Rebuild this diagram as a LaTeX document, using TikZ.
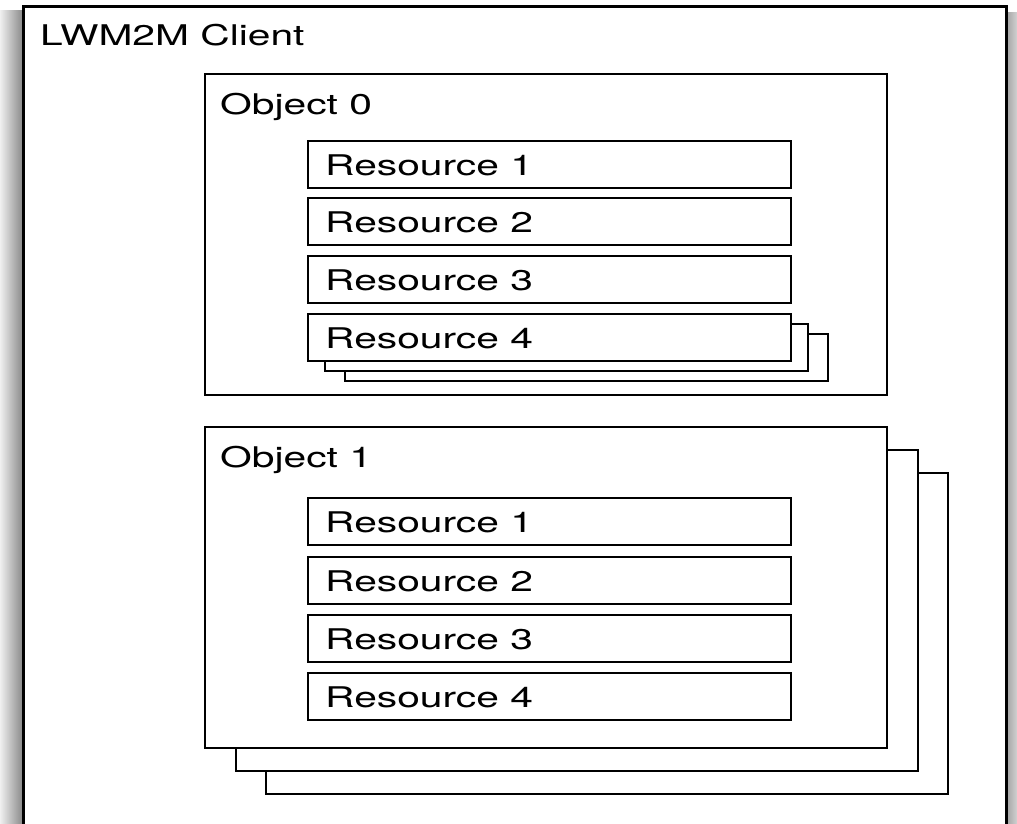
\documentclass[tikz,border=0pt]{standalone}
\usepackage{fontspec}
\setmainfont{TeX Gyre Heros}
% labels are set in a horizontally widened face
\newcommand{\wide}[1]{\scalebox{1.43}[1]{#1}}
\begin{document}
\begin{tikzpicture}[x=1pt,y=-1pt,
  box/.style={draw, line width=2.8pt, fill=white, rectangle, inner sep=0pt, outer sep=0pt, anchor=north west},
  resbox/.style={box, minimum width=483pt, minimum height=47pt},
  objbox/.style={box, minimum width=682pt, minimum height=321pt},
  lbl/.style={anchor=base west, inner sep=0pt, font=\fontsize{28.5}{30}\selectfont}]
\clip (0,0) rectangle (1017,823);
\fill[white] (0,0) rectangle (1017,823);

% soft shadow around the client frame
\shade[left color=black!6, right color=black!45] (0,10) rectangle (22,823);
\shade[left color=black!35, right color=black!18] (1007,12) rectangle (1017,823);

% client frame (runs past the lower edge)
\node[box, line width=3pt, minimum width=983pt, minimum height=860pt] (client) at (23,6) {};
\node[lbl] (clientlbl) at (40,45) {\wide{LWM2M Client}};

% ---- Object 0 ----
\node[objbox] (obj0) at (205,74) {};
\node[lbl] (obj0lbl) at ([xshift=15pt,yshift=-40pt]obj0.north west) {\wide{Object 0}};

% stacked copies of resource 4 (drawn back to front)
\node[resbox] (o0r4c) at (345,334) {};
\node[resbox] (o0r4b) at (325,324) {};

\foreach \i/\y in {1/141, 2/198, 3/256, 4/314} {
  \node[resbox] (o0r\i) at (308,\y) {};
  \node[lbl] (o0r\i lbl) at ([xshift=17pt,yshift=-34pt]o0r\i.north west) {\wide{Resource \i}};
}

% ---- Object 1 (multiple instances) ----
\node[objbox] (obj1c) at (266,473) {};
\node[objbox] (obj1b) at (236,450) {};
\node[objbox] (obj1) at (205,427) {};
\node[lbl] (obj1lbl) at ([xshift=15pt,yshift=-40pt]obj1.north west) {\wide{Object 1}};

\foreach \i/\y in {1/498, 2/557, 3/615, 4/673} {
  \node[resbox] (o1r\i) at (308,\y) {};
  \node[lbl] (o1r\i lbl) at ([xshift=17pt,yshift=-34pt]o1r\i.north west) {\wide{Resource \i}};
}
\end{tikzpicture}
\end{document}
